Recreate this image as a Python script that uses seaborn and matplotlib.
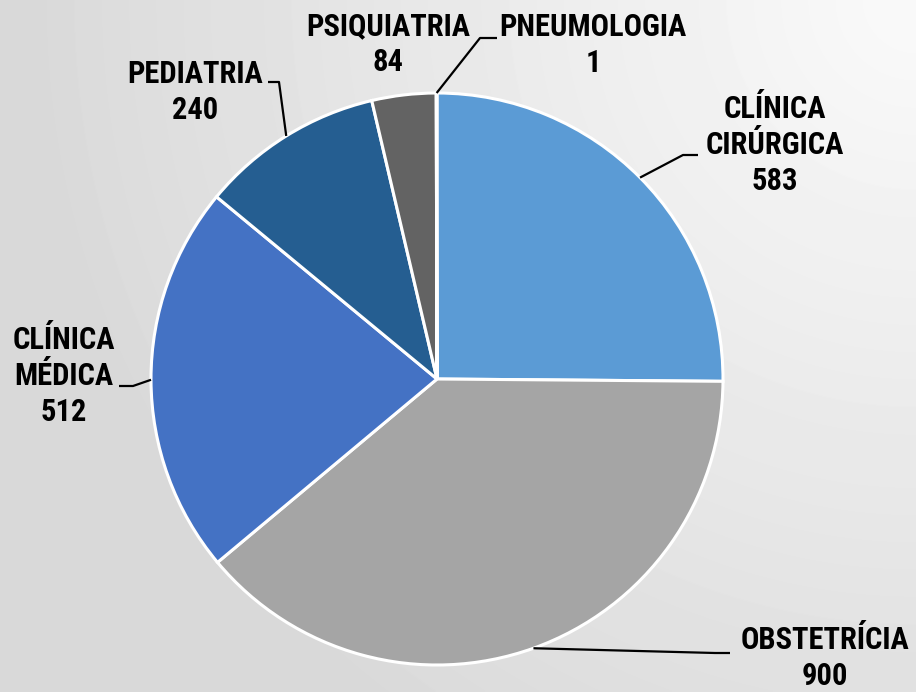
import numpy as np
import matplotlib
matplotlib.use("Agg")
import matplotlib.pyplot as plt
import seaborn as sns

'''DATA'''
labels = ["CLÍNICA\nCIRÚRGICA", "OBSTETRÍCIA", "CLÍNICA\nMÉDICA",
          "PEDIATRIA", "PSIQUIATRIA", "PNEUMOLOGIA"]
values = [583, 900, 512, 240, 84, 1]
colors = ["#5B9BD5", "#A5A5A5", "#4472C4", "#255E91", "#636363", "#264478"]

sns.set_style("white")
plt.rcParams["font.family"] = ["Roboto Condensed", "DejaVu Sans"]

W, H = 916, 692
CX, CY, R = 437, 379, 286   # pie centre / radius in pixels


def px(x, y):
    # pixel position -> data coords (pie of radius 1 at origin)
    return (x - CX) / R, (CY - y) / R


fig = plt.figure(figsize=(W / 100, H / 100), dpi=100)

'''BACKGROUND'''
bg = fig.add_axes([0, 0, 1, 1])
yy, xx = np.mgrid[0:H, 0:W]
r = np.hypot(xx - W, yy)
shade = (250 - 33 * np.clip(r / 900, 0, 1)) / 255
bg.imshow(shade, cmap="gray", vmin=0, vmax=1, aspect="auto", interpolation="bilinear")
bg.axis("off")

'''PIE'''
ax = fig.add_axes([0, 0, 1, 1])
ax.patch.set_alpha(0)
wedges, _ = ax.pie(values, colors=sns.color_palette(colors), startangle=90,
                   counterclock=False, radius=1,
                   wedgeprops=dict(edgecolor="white", linewidth=2.2))
ax.set_xlim(-CX / R, (W - CX) / R)
ax.set_ylim((CY - H) / R, CY / R)
ax.axis("off")

# label text centres and leader elbows (pixels)
text_pos = [(775, 145), (825, 658), (64, 376), (195, 92), (388, 44), (593, 45)]
elbows = [[(683, 155), (698, 155)],
          [(715, 653), (730, 653)],
          [(133, 386), (119, 386)],
          [(279, 82), (268, 82)],
          None,
          [(480, 38), (497, 38)]]

for w, lab, val, tp, el in zip(wedges, labels, values, text_pos, elbows):
    ang = np.deg2rad((w.theta1 + w.theta2) / 2)
    tx, ty = px(*tp)
    ax.text(tx, ty, f"{lab}\n{val}", ha="center", va="center", fontsize=22,
            fontweight="bold", color="black", linespacing=1.24)
    if el is not None:
        pts = [(np.cos(ang), np.sin(ang))] + [px(*p) for p in el]
        xs, ys = zip(*pts)
        ax.plot(xs, ys, color="black", lw=1.6, solid_capstyle="butt")

fig.savefig("out.png", dpi=100)
